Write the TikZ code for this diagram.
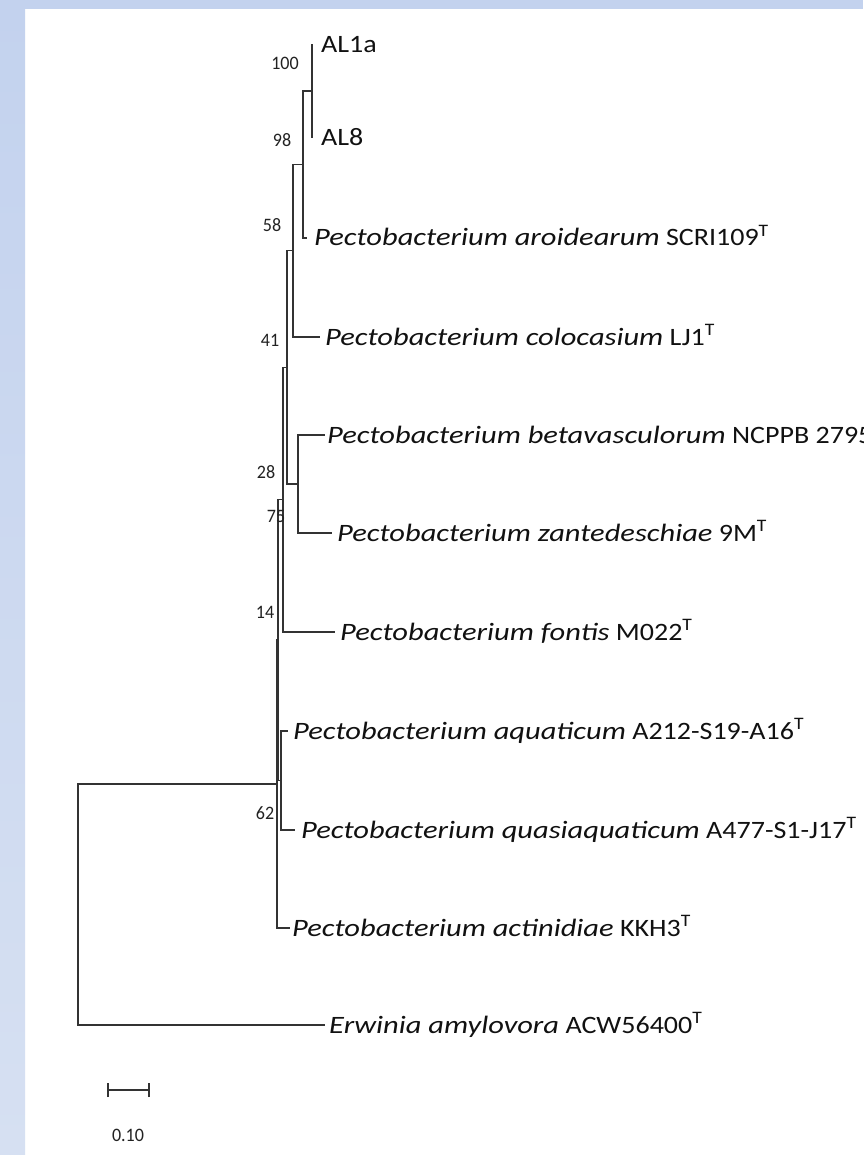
\documentclass[tikz,border=0pt]{standalone}
\usepackage{fontspec}
\setmainfont{Carlito}[UprightFeatures={FakeStretch=1.12}, ItalicFeatures={FakeStretch=1.22}]
\newfontfamily\bsfont{Carlito}
\definecolor{linec}{HTML}{333333}
\definecolor{txtc}{HTML}{111111}
\definecolor{bsc}{HTML}{222222}
\definecolor{bluetop}{HTML}{C3D2EE}
\definecolor{bluebot}{HTML}{D6E0F2}
\begin{document}
\begin{tikzpicture}[x=1pt,y=-1pt,
  br/.style={draw=linec, line width=1.4pt},
  sp/.style={anchor=base west, inner sep=0pt, font=\fontsize{25}{29}\selectfont, text=txtc},
  bs/.style={inner sep=0pt, font=\bsfont\fontsize{19}{22}\selectfont, text=bsc, xscale=0.95},
]
\useasboundingbox (0,0) rectangle (863,1155);
\fill[white] (0,0) rectangle (863,1155);
\shade[top color=bluetop, bottom color=bluebot] (0,0) rectangle (25,1155);
\fill[bluetop] (0,0) rectangle (863,9);

% tips
\coordinate (t1) at (312,44);
\coordinate (t2) at (312,138);
\coordinate (t3) at (307,238);
\coordinate (t4) at (320,337);
\coordinate (t5) at (325,435);
\coordinate (t6) at (332,533);
\coordinate (t7) at (335,632);
\coordinate (t8) at (288,731);
\coordinate (t9) at (295,830);
\coordinate (t10) at (290,928);
\coordinate (t11) at (325,1025);

% internal nodes
\coordinate (n100) at (312,91);
\coordinate (n98) at (303,164.5);
\coordinate (n58) at (293,250.75);
\coordinate (nbz) at (298,484);
\coordinate (n41) at (287,367.4);
\coordinate (n28) at (283,499.7);
\coordinate (naq) at (281,780.5);
\coordinate (n14) at (278,640.1);
\coordinate (np) at (277,784);
\coordinate (root) at (78,904.5);

% branches
\draw[br] (n100) |- (t1);
\draw[br] (n100) |- (t2);
\draw[br] (n98) |- (n100);
\draw[br] (n98) |- (t3);
\draw[br] (n58) |- (n98);
\draw[br] (n58) |- (t4);
\draw[br] (nbz) |- (t5);
\draw[br] (nbz) |- (t6);
\draw[br] (n41) |- (n58);
\draw[br] (n41) |- (nbz);
\draw[br] (n28) |- (n41);
\draw[br] (n28) |- (t7);
\draw[br] (naq) |- (t8);
\draw[br] (naq) |- (t9);
\draw[br] (n14) |- (n28);
\draw[br] (n14) |- (naq);
\draw[br] (np) |- (n14);
\draw[br] (np) |- (t10);
\draw[br] (root) |- (np);
\draw[br] (root) |- (t11);

% leaf labels
\node[sp] (s1) at (321,53) {AL1a};
\node[sp] (s2) at (321,146) {AL8};
\node[sp] (s3) at (314,246) {\textit{Pectobacterium aroidearum} SCRI109\textsuperscript{T}};
\node[sp] (s4) at (325,345) {\textit{Pectobacterium colocasium} LJ1\textsuperscript{T}};
\node[sp] (s5) at (327,443) {\textit{Pectobacterium betavasculorum} NCPPB 2795\textsuperscript{T}};
\node[sp] (s6) at (337,541) {\textit{Pectobacterium zantedeschiae} 9M\textsuperscript{T}};
\node[sp] (s7) at (340,640) {\textit{Pectobacterium fontis} M022\textsuperscript{T}};
\node[sp] (s8) at (293,739) {\textit{Pectobacterium aquaticum} A212-S19-A16\textsuperscript{T}};
\node[sp] (s9) at (301,838) {\textit{Pectobacterium quasiaquaticum} A477-S1-J17\textsuperscript{T}};
\node[sp] (s10) at (292,936) {\textit{Pectobacterium actinidiae} KKH3\textsuperscript{T}};
\node[sp] (s11) at (329,1033) {\textit{Erwinia amylovora} ACW56400\textsuperscript{T}};

% bootstrap values
\node[bs] (b100) at (285,63) {100};
\node[bs] (b98) at (282,140) {98};
\node[bs] (b58) at (272,225) {58};
\node[bs] (b41) at (270,340) {41};
\node[bs] (b28) at (266,472) {28};
\node[bs] (b75) at (276,516) {75};
\node[bs] (b14) at (265,612) {14};
\node[bs] (b62) at (265,813) {62};

% scale bar
\coordinate (sb1) at (108,1090);
\coordinate (sb2) at (149,1090);
\draw[br] (sb1) -- (sb2);
\draw[br] ([yshift=-7pt]sb1) -- ([yshift=7pt]sb1);
\draw[br] ([yshift=-7pt]sb2) -- ([yshift=7pt]sb2);
\node[bs] (sbl) at (128,1135) {0.10};
\end{tikzpicture}
\end{document}
